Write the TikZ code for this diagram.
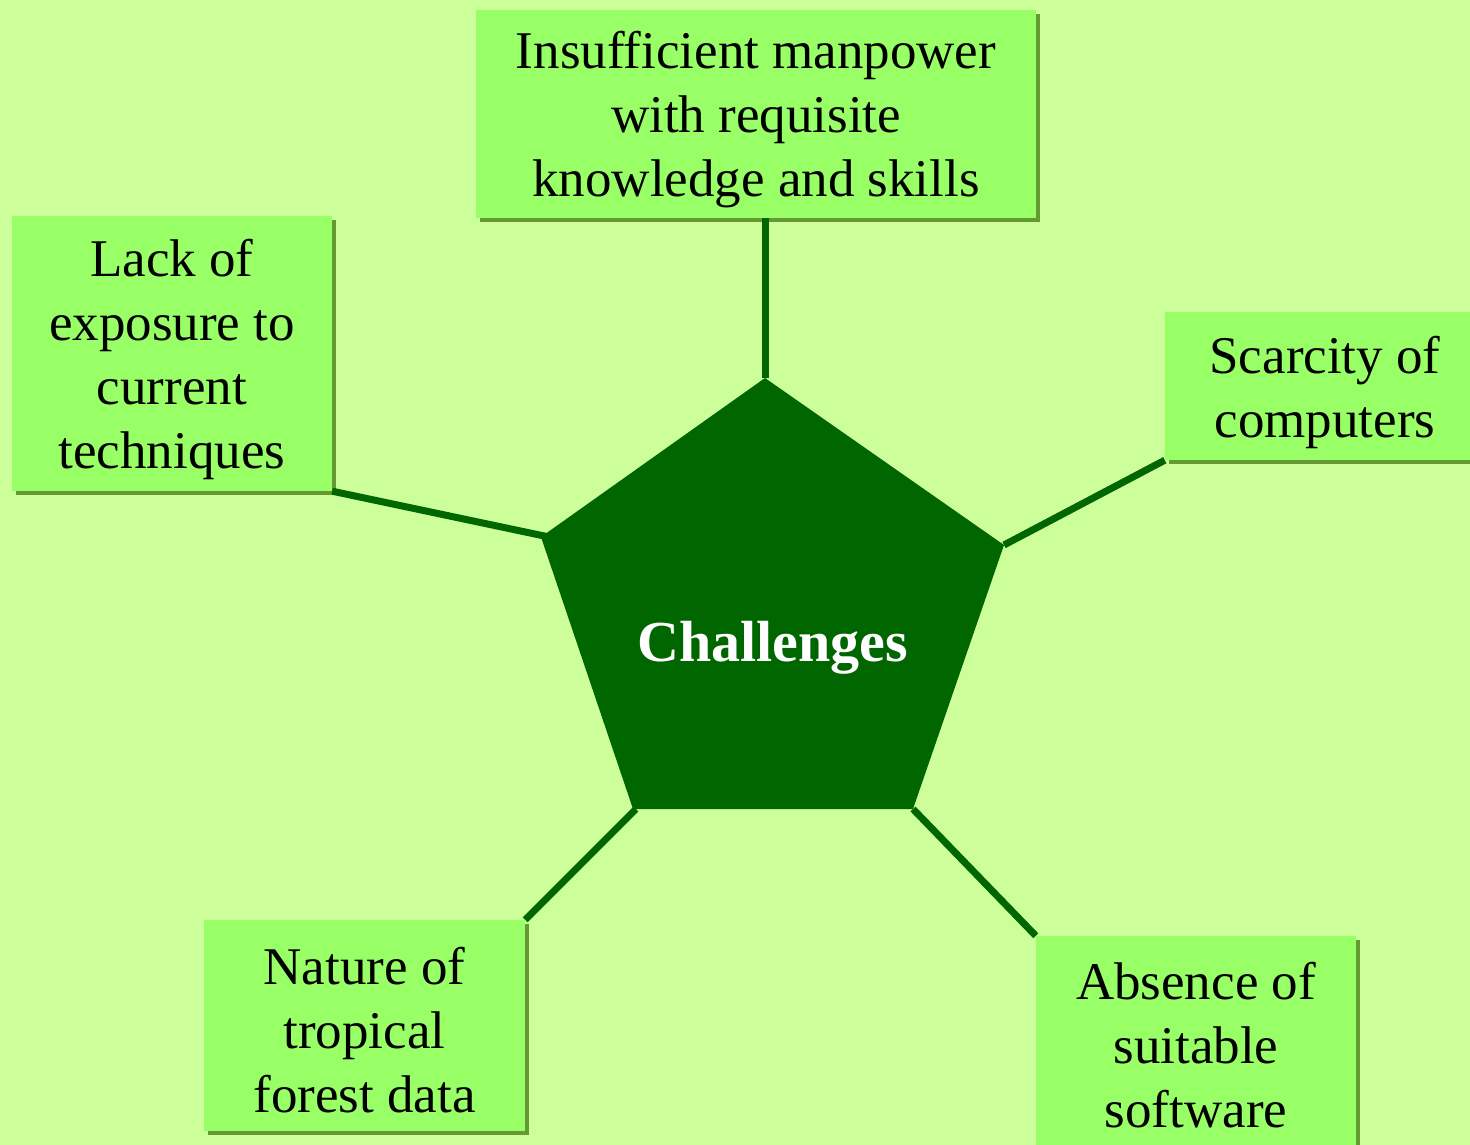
\documentclass[tikz,border=0pt]{standalone}
\usepackage{fontspec}
\setmainfont{Liberation Serif}[Ligatures=NoCommon]
\usetikzlibrary{shadows}

\definecolor{pagebg}{HTML}{CCFF99}
\definecolor{boxfill}{HTML}{99FF66}
\definecolor{boxshade}{HTML}{669933}
\definecolor{hubgreen}{HTML}{006600}

\tikzset{
  topic/.style={rectangle, fill=boxfill, inner sep=0pt,
    drop shadow={shadow xshift=4pt, shadow yshift=-4pt, fill=boxshade, opacity=1}},
  topictext/.style={align=center, inner sep=0pt, text=black,
    font=\fontsize{53}{64}\selectfont},
  link/.style={draw=hubgreen, line width=7pt}
}

\begin{document}
\begin{tikzpicture}[x=1pt, y=-1pt]
  \useasboundingbox (0,0) rectangle (1470,1145);
  \fill[pagebg] (0,0) rectangle (1470,1145);
  \clip (0,0) rectangle (1470,1145);

  % corners of the central pentagon
  \coordinate (p1) at (765,378);
  \coordinate (p2) at (541,537);
  \coordinate (p3) at (633,809);
  \coordinate (p4) at (913,809);
  \coordinate (p5) at (1004,545);

  % topic boxes
  \node[topic, minimum width=560pt, minimum height=208pt] (manpower) at (756,114) {};
  \node[topic, minimum width=320pt, minimum height=275pt] (exposure) at (172,353.5) {};
  \node[topic, minimum width=320pt, minimum height=148pt] (computers) at (1325,386) {};
  \node[topic, minimum width=321pt, minimum height=211pt] (forest) at (364.5,1025.5) {};
  \node[topic, minimum width=320pt, minimum height=211pt] (software) at (1196,1041.5) {};

  \node[topictext] (manpower-t) at ([yshift=-6pt]manpower.center)
    {Insufficient manpower\\with requisite\\knowledge and skills};
  \node[topictext] (exposure-t) at ([yshift=-6pt]exposure.center)
    {Lack of\\exposure to\\current\\techniques};
  \node[topictext] (computers-t) at ([yshift=-6pt]computers.center)
    {Scarcity of\\computers};
  \node[topictext] (forest-t) at ([yshift=-5pt]forest.center)
    {Nature of\\tropical\\forest data};
  \node[topictext] (software-t) at ([yshift=-4pt]software.center)
    {Absence of\\suitable\\software};

  % spokes
  \draw[link] (p1 |- manpower.south) -- (p1);
  \draw[link] (exposure.south east) -- ([xshift=8pt]p2);
  \draw[link] (computers.south west) -- (p5);
  \draw[link] (forest.north east) -- ([xshift=3pt]p3);
  \draw[link] (software.north west) -- (p4);

  % hub
  \fill[hubgreen] (p1) -- (p2) -- (p3) -- (p4) -- (p5) -- cycle;
  \node[text=white, inner sep=0pt, font=\fontsize{58}{68}\selectfont\bfseries]
    (hubtext) at (772.5,648) {Challenges};
\end{tikzpicture}
\end{document}
